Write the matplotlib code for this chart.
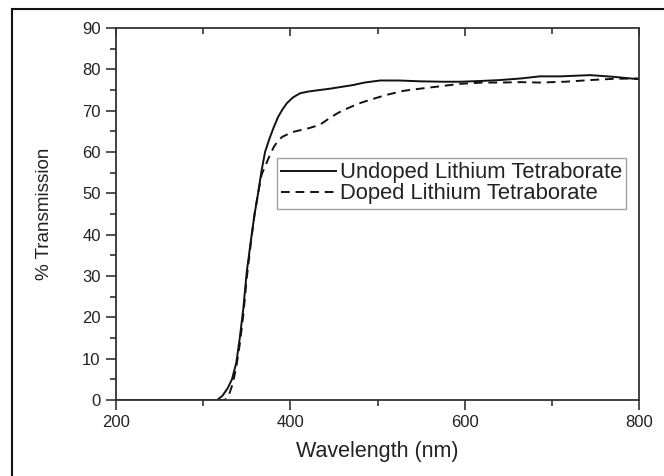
import matplotlib
matplotlib.use("Agg")
import matplotlib.pyplot as plt
from matplotlib.lines import Line2D
from matplotlib.ticker import MultipleLocator

plt.rcParams['font.family'] = ['Liberation Sans', 'DejaVu Sans']

undoped_wl = [200, 316, 322, 328, 333, 338, 342, 346, 350, 355, 359, 363, 367, 371, 376, 381,
              386, 391, 396, 403, 411, 420, 430, 445, 460, 472, 485, 503, 525, 549, 575, 595,
              620, 640, 665, 686, 710, 744, 770, 800]
undoped_t = [0, 0, 1, 2.8, 5, 9, 15, 22, 31, 39, 45, 50, 55.5, 60, 63.2, 66,
             68.5, 70.3, 71.8, 73.2, 74.2, 74.6, 74.9, 75.3, 75.8, 76.2, 76.8, 77.3, 77.3, 77.1, 77.0, 77.0,
             77.2, 77.4, 77.8, 78.3, 78.3, 78.6, 78.2, 77.6]

doped_wl = [200, 325, 330, 334, 338, 342, 346, 350, 355, 359, 363, 367, 371, 376, 381, 386,
            391, 396, 404, 412, 422, 434, 445, 455, 465, 478, 491, 510, 530, 548, 568, 595,
            620, 640, 665, 686, 715, 744, 770, 800]
doped_t = [0, 0, 1.5, 4, 8, 13.5, 20.5, 29.5, 38.5, 45, 50, 54.5, 56.5, 59, 61.2, 62.8,
           63.7, 64.2, 64.9, 65.3, 65.8, 66.6, 68.2, 69.5, 70.5, 71.7, 72.6, 73.8, 74.8, 75.3, 75.8, 76.5,
           76.8, 76.8, 76.9, 76.8, 77.0, 77.4, 77.7, 77.8]

labels = ["Undoped Lithium Tetraborate", "Doped Lithium Tetraborate"]
x_ticks = [200, 400, 600, 800]
y_ticks = [0, 10, 20, 30, 40, 50, 60, 70, 80, 90]

txt = '#222222'
fig = plt.figure(figsize=(6.64, 4.76), dpi=100)
ax = fig.add_axes([116/664, 1-400/476, 523/664, 372/476])

ax.plot(undoped_wl, undoped_t, color='#111111', lw=1.4, label=labels[0])
ax.plot(doped_wl, doped_t, color='#111111', lw=1.4, ls=(0, (4.5, 3)), label=labels[1])

ax.set_xlim(200, 800)
ax.set_ylim(0, 90)
ax.set_xticks(x_ticks)
ax.set_yticks(y_ticks)
ax.xaxis.set_minor_locator(MultipleLocator(100))
ax.yaxis.set_minor_locator(MultipleLocator(5))

ax.tick_params(axis='both', which='major', direction='out', length=7, width=1.2,
               labelsize=12, pad=4, colors='#333333', labelcolor=txt)
ax.tick_params(axis='both', which='minor', direction='out', length=4, width=1.2, colors='#333333')
# mirrored top ticks pointing inward
secx = ax.secondary_xaxis('top')
secx.set_xticks(x_ticks)
secx.xaxis.set_minor_locator(MultipleLocator(100))
secx.tick_params(axis='x', which='major', direction='in', length=6, width=1.2, labeltop=False, colors='#333333')
secx.tick_params(axis='x', which='minor', direction='in', length=4, width=1.2, colors='#333333')
secx.spines['top'].set_visible(False)

for s in ax.spines.values():
    s.set_linewidth(1.3)
    s.set_color('#333333')

ax.set_xlabel("Wavelength (nm)", fontsize=15.5, color=txt, labelpad=8)
ax.set_ylabel("% Transmission", fontsize=13.6, color=txt, labelpad=21)

leg = ax.legend(loc='upper left', bbox_to_anchor=(0.308, 0.6505), borderaxespad=0,
                fontsize=15.8, frameon=True, fancybox=False, edgecolor='#888888',
                handlelength=2.5, handletextpad=0.15, borderpad=0.2, labelspacing=0.0)
leg.get_frame().set_linewidth(1.0)
for t in leg.get_texts():
    t.set_color(txt)

# outer frame of the figure (cut at right and bottom)
fig.add_artist(Line2D([12/664, 12/664], [-0.1, 1-9/476], transform=fig.transFigure,
                      color='#111111', lw=1.5))
fig.add_artist(Line2D([12/664, 1.1], [1-9/476, 1-9/476], transform=fig.transFigure,
                      color='#111111', lw=1.5))

fig.savefig("out.png", dpi=100)
